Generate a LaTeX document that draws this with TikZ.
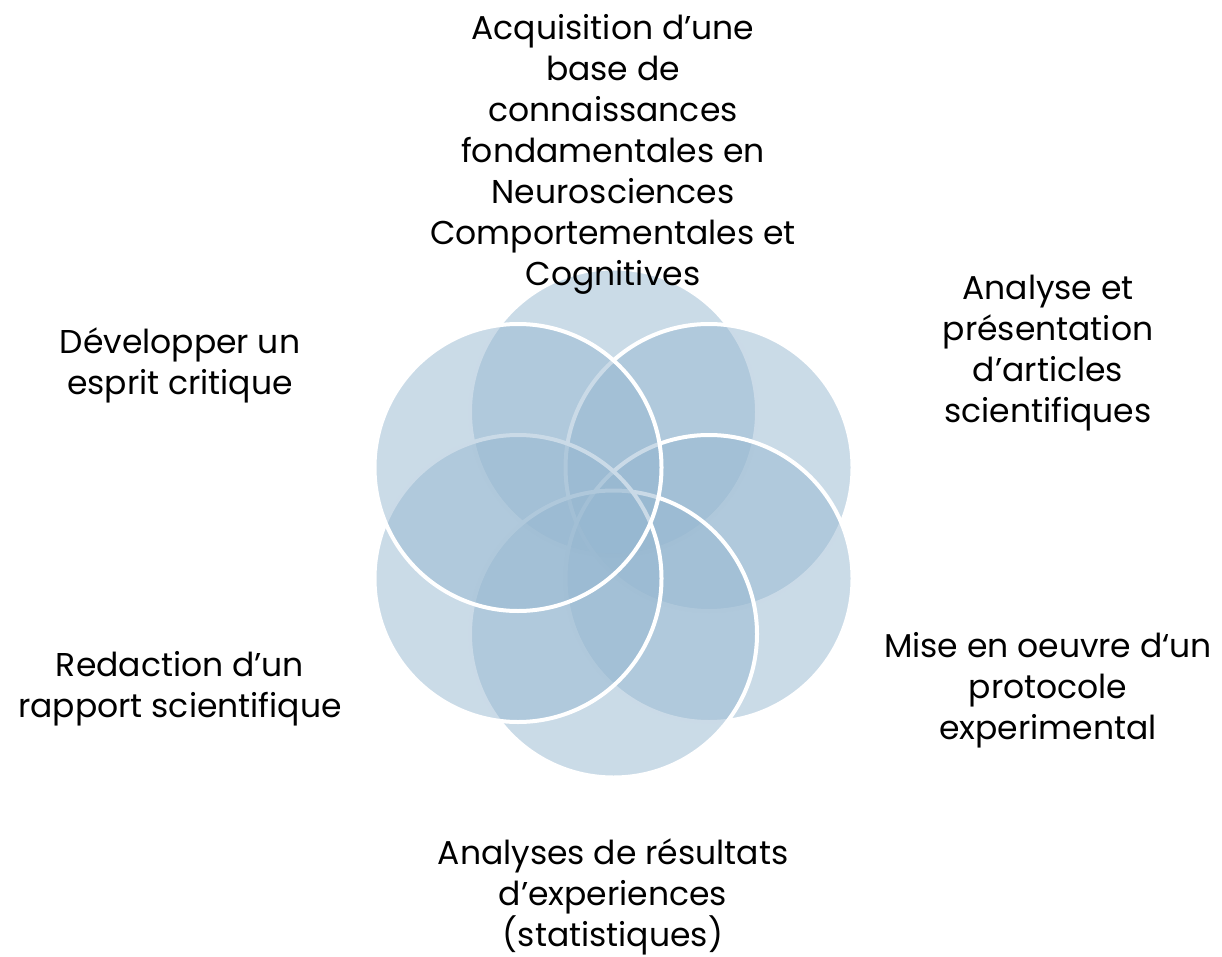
\documentclass[tikz,border=0pt]{standalone}
\usepackage{fontspec}
\setmainfont{Poppins}
\definecolor{vennblue}{RGB}{150,183,208}
\tikzset{
  ring/.style={circle, draw=white, line width=4pt, fill=vennblue, fill opacity=0.5, minimum size=287pt, inner sep=0pt},
  lbl/.style={align=center, anchor=base, inner sep=0pt, font=\fontsize{33}{41}\selectfont}
}
\begin{document}
\begin{tikzpicture}[x=1pt,y=-1pt]
	\useasboundingbox (0,0) rectangle (1222,957);
	% circles, clockwise from the top
	\node (c1) [ring] at (613.5,412) {};
	\node (c2) [ring] at (709,467.5) {};
	\node (c3) [ring] at (709,578.5) {};
	\node (c4) [ring] at (613.5,634) {};
	\node (c5) [ring] at (518,578.5) {};
	\node (c6) [ring] at (518,467.5) {};
	
	% labels (anchored at the baseline of their last line)
	\node (t1) [lbl] at (613,286) {Acquisition d’une\\base de\\connaissances\\fondamentales en\\Neurosciences\\Comportementales et\\Cognitives};
	\node (t2) [lbl] at (1048,422) {Analyse et\\présentation\\d’articles\\scientifiques};
	\node (t3) [lbl] at (1048,739) {Mise en oeuvre d‘un\\protocole\\experimental};
	\node (t4) [lbl] at (613,946) {Analyses de résultats\\d’experiences\\(statistiques)};
	\node (t5) [lbl] at (180,717) {Redaction d’un\\rapport scientifique};
	\node (t6) [lbl] at (180,394) {Développer un\\esprit critique};
\end{tikzpicture}
\end{document}
